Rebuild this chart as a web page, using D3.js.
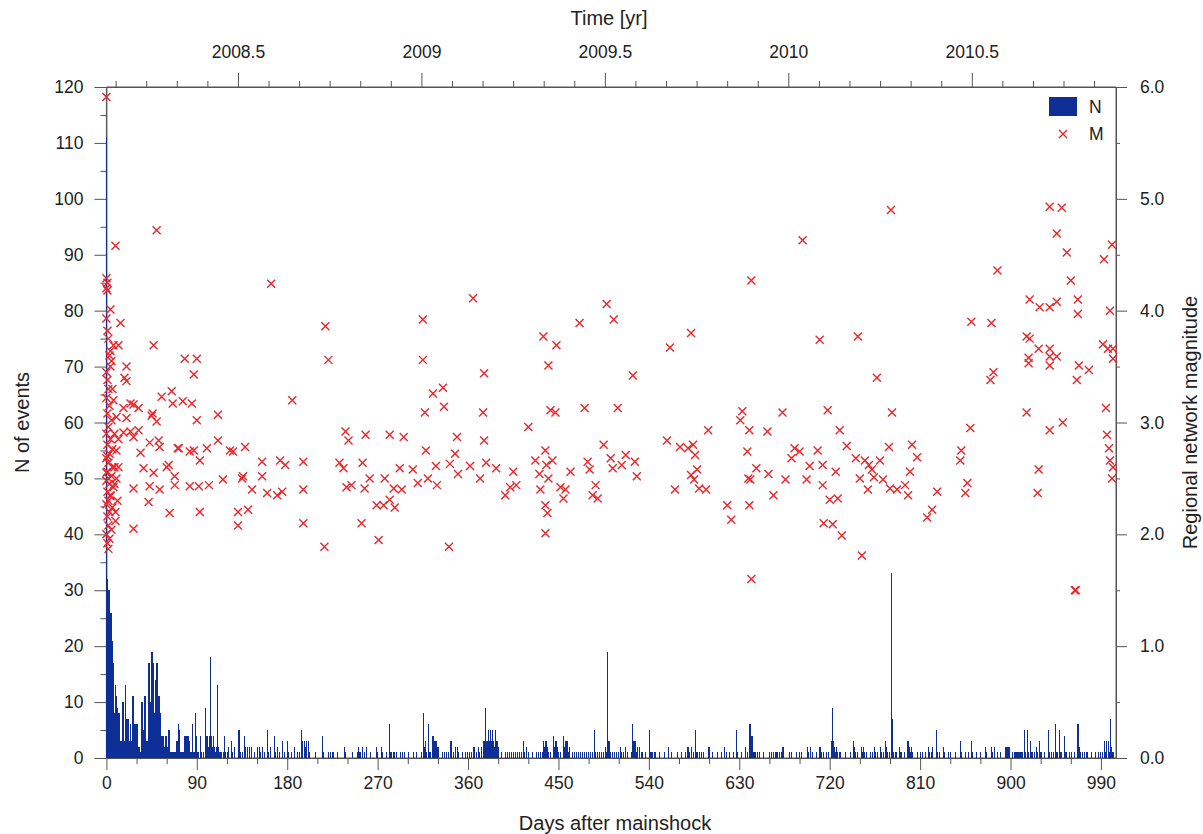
<!DOCTYPE html>
<html>
<head>
<meta charset="utf-8">
<script src="https://cdn.jsdelivr.net/npm/d3@7"></script>
<style>
  body { margin: 0; background: #fff; }
  svg { font-family: 'Liberation Sans', Arial, sans-serif; }
  .axis path, .axis line { stroke: #555; }
  .axis text { fill: #222; font-size: 17.5px; }
  .axis-title { fill: #222; font-size: 20px; }
</style>
</head>
<body>
<svg width="1203" height="834"></svg>
<script>
// daily number of events: [day after mainshock, count]
const barData = [
  [0,111],[1,32],[2,30],[3,30],[4,26],[5,26],[6,21],[7,17],[8,8],[9,13],[10,11],[11,9],[12,8],[13,8],[14,3],[15,3],
  [16,10],[17,10],[18,3],[19,13],[20,7],[21,7],[22,3],[23,6],[24,3],[25,11],[26,11],[27,6],[28,6],[29,6],[30,6],
  [31,2],[32,2],[33,1],[34,10],[35,10],[36,5],[37,11],[38,11],[39,3],[40,3],[41,17],[42,17],[43,10],[44,19],[45,19],
  [46,17],[47,8],[48,14],[49,17],[50,17],[51,11],[52,11],[53,8],[54,4],[55,4],[56,4],[57,2],[58,4],[59,4],[60,2],
  [61,5],[62,5],[63,1],[64,1],[65,1],[66,1],[67,1],[68,1],[69,3],[70,3],[71,6],[72,5],[73,1],[74,1],[75,1],[76,1],
  [77,4],[78,4],[79,4],[80,4],[81,4],[82,3],[83,1],[84,1],[85,6],[86,1],[87,1],[88,8],[89,4],[90,1],[91,1],[93,4],
  [94,1],[96,1],[98,9],[99,4],[100,4],[101,2],[102,4],[103,18],[104,4],[105,2],[106,4],[107,2],[108,1],[109,2],
  [110,13],[111,2],[112,1],[113,1],[114,1],[116,1],[117,4],[118,1],[120,1],[121,2],[124,3],[125,1],[127,2],[131,5],
  [132,5],[133,1],[135,1],[137,4],[138,2],[140,2],[142,2],[144,2],[147,1],[150,2],[152,2],[153,1],[155,2],[157,1],
  [160,5],[161,1],[163,2],[167,4],[168,1],[170,2],[172,1],[175,3],[177,1],[180,3],[181,1],[184,1],[187,2],[190,1],
  [192,1],[194,5],[195,3],[197,3],[198,2],[199,3],[201,3],[202,1],[208,1],[215,4],[216,1],[221,1],[223,1],[225,1],
  [226,1],[230,1],[237,2],[238,1],[244,1],[249,1],[250,2],[251,1],[252,1],[254,2],[256,1],[258,2],[262,1],[268,2],
  [269,1],[273,2],[274,1],[278,1],[281,6],[282,1],[283,1],[285,1],[286,1],[288,1],[292,1],[294,1],[296,1],[300,1],
  [305,1],[308,1],[313,1],[315,8],[316,2],[317,3],[318,1],[320,6],[321,1],[322,1],[324,4],[325,4],[326,3],[327,3],
  [328,3],[329,2],[330,2],[334,1],[336,1],[338,1],[340,1],[342,3],[343,3],[345,1],[347,2],[349,2],[350,1],[354,1],
  [357,1],[359,1],[361,1],[363,1],[365,2],[366,2],[368,1],[370,2],[371,1],[373,2],[375,3],[376,3],[377,9],[378,3],
  [379,3],[380,5],[381,3],[382,5],[383,3],[384,5],[385,3],[386,2],[387,5],[388,3],[389,3],[390,2],[393,1],[397,1],
  [399,1],[401,1],[403,1],[405,1],[407,1],[409,1],[411,1],[413,1],[415,3],[416,1],[418,2],[420,1],[424,1],[428,1],
  [430,1],[432,1],[434,1],[435,3],[436,2],[437,3],[438,3],[439,2],[440,1],[442,1],[445,4],[446,2],[447,3],[448,3],
  [449,2],[450,1],[452,1],[455,4],[456,2],[457,3],[458,3],[459,1],[460,2],[463,1],[465,1],[467,1],[469,1],[471,1],
  [473,1],[475,1],[477,1],[479,1],[481,1],[483,1],[485,5],[486,1],[488,1],[490,1],[492,1],[494,1],[496,2],[497,1],
  [498,19],[499,3],[500,3],[501,1],[503,1],[505,1],[507,1],[509,1],[511,2],[512,1],[514,1],[516,2],[518,1],[522,1],
  [523,6],[524,3],[525,3],[526,3],[527,1],[528,2],[530,2],[532,1],[533,1],[536,1],[540,5],[541,1],[542,1],[543,1],
  [545,1],[546,1],[550,1],[555,1],[559,2],[562,1],[568,1],[572,1],[576,1],[578,2],[579,2],[580,1],[582,2],[584,1],
  [586,5],[587,1],[588,1],[590,1],[592,1],[594,1],[599,2],[600,2],[603,1],[608,1],[612,1],[615,2],[617,1],[620,1],
  [624,1],[627,5],[628,1],[632,1],[636,2],[638,1],[640,6],[641,6],[642,4],[643,4],[644,1],[645,1],[646,1],[648,1],
  [650,1],[654,1],[660,1],[662,1],[664,1],[666,1],[667,1],[668,1],[670,1],[672,1],[673,2],[674,2],[679,1],[681,1],
  [686,1],[689,1],[691,1],[697,2],[698,1],[700,2],[702,1],[706,1],[709,2],[710,2],[711,1],[713,1],[716,1],[718,1],
  [721,3],[722,9],[723,3],[724,2],[725,1],[726,2],[727,1],[729,1],[730,1],[735,1],[740,1],[743,3],[744,2],[745,1],
  [747,1],[751,2],[752,1],[753,2],[754,1],[756,1],[760,1],[762,1],[764,2],[765,1],[767,1],[770,2],[771,1],[773,1],
  [775,3],[776,2],[777,1],[779,1],[781,33],[782,7],[783,1],[785,1],[786,1],[789,2],[790,1],[791,1],[794,1],[797,3],
  [798,3],[799,2],[800,1],[801,2],[802,1],[807,1],[810,1],[812,1],[815,1],[818,2],[819,1],[821,1],[822,2],[826,5],
  [827,1],[829,1],[833,2],[834,1],[838,1],[840,1],[845,1],[850,3],[851,1],[855,1],[858,1],[861,3],[862,1],[866,1],
  [870,1],[875,2],[876,1],[881,2],[882,1],[884,2],[887,1],[890,1],[895,2],[896,2],[897,2],[898,2],[901,1],[903,1],
  [904,1],[905,1],[906,1],[907,1],[908,1],[909,1],[910,1],[911,1],[913,5],[914,1],[916,5],[917,1],[919,3],[920,1],
  [921,1],[923,1],[925,2],[926,1],[928,3],[929,1],[930,1],[933,1],[937,5],[938,1],[940,1],[942,1],[944,6],[945,1],
  [946,1],[948,5],[949,1],[950,1],[953,4],[954,1],[955,1],[958,1],[960,1],[963,1],[966,6],[967,6],[968,2],[969,1],
  [971,1],[973,1],[975,1],[976,1],[980,1],[984,1],[987,1],[989,1],[991,1],[993,3],[994,1],[995,3],[997,3],[998,1],
  [999,7],[1000,2],[1001,1],[1002,1]
];

// regional network magnitude of individual events (day after mainshock, M)
const magDays = [0,9,50,0,1,0,1,4,0,14,47,7,12,4,78,90,20,87,18,164,
  20,17,24,27,32,55,65,66,76,85,46,50,45,90,111,20,17,24,27,32,
  43,52,53,72,87,100,111,123,126,138,34,62,71,83,93,155,173,178,37,47,
  60,68,116,135,136,155,27,43,53,68,83,92,102,145,160,170,175,42,63,93,
  131,141,131,27,
  0,1,2,0,3,1,5,2,0,4,1,6,3,0,2,8,1,5,0,3,7,1,4,2,0,6,3,1,9,2,5,0,3,1,2,4,6,8,10,10,11,9,12,7,5,3,2,1,4,6,8,10,12,0,1,2,
  185,196,196,196,218,221,217,232,236,239,241,244,238,254,255,257,258,262,271,269,276,277,282,282,286,287,292,294,296,305,310,315,315,317,318,320,325,328,329,335,336,341,342,347,349,350,365,362,376,375,376,378,372,388,397,402,405,408,420,427,431,432,
  435,448,440,437,438,440,437,439,437,442,447,444,452,455,457,462,471,476,479,481,484,487,489,495,498,505,502,504,509,513,517,524,526,528,
  561,558,566,571,579,582,582,584,585,586,588,590,597,599,618,622,631,633,640,638,639,641,640,642,642,647,658,659,664,
  673,676,682,685,690,693,697,700,708,710,713,713,714,718,720,723,726,728,730,732,737,746,748,752,750,755,758,759,762,764,767,770,773,781,782,779,780,787,
  795,798,800,802,807,817,822,827,850,851,855,857,860,861,880,881,883,887,
  939,951,946,956,1001,993,960,919,929,939,946,967,967,999,916,919,928,939,939,946,939,918,918,968,978,992,997,1002,1002,966,
  916,927,928,939,952,964,965,995,996,998,999,1001,1002];
const magValues = [5.91,4.58,4.72,4.29,4.25,4.2,4.18,4.01,3.93,3.89,3.69,3.69,3.69,3.64,3.57,3.57,3.5,3.43,3.4,4.24,
  3.37,3.13,3.17,3.16,3.13,3.23,3.28,3.17,3.19,3.17,3.08,3.01,3.06,3.02,3.07,3.04,2.91,2.92,2.87,2.93,
  2.82,2.84,2.78,2.77,2.75,2.77,2.84,2.75,2.74,2.78,2.73,2.62,2.77,2.74,2.66,2.65,2.66,2.62,2.59,2.55,
  2.6,2.52,2.49,2.5,2.52,2.52,2.41,2.43,2.4,2.44,2.43,2.43,2.44,2.4,2.37,2.35,2.38,2.29,2.19,2.2,
  2.2,2.22,2.08,2.05,
  3.45,3.38,3.3,3.22,3.15,3.08,3.02,2.96,2.9,2.85,2.8,2.76,2.72,2.68,2.64,2.6,2.56,2.52,2.48,2.45,2.42,2.38,2.34,2.3,2.27,2.24,2.2,2.16,2.12,2.08,2.04,2.0,1.96,1.92,1.87,2.35,2.6,2.9,3.05,2.5,2.3,2.2,2.6,3.2,3.55,3.6,3.75,3.82,3.5,3.3,2.45,2.75,2.85,2.55,2.7,2.5,
  3.2,2.65,2.4,2.1,3.86,3.56,1.89,2.64,2.59,2.42,2.84,2.44,2.92,2.1,2.64,2.41,2.89,2.5,1.95,2.26,2.26,2.5,2.89,2.31,2.41,2.24,2.59,2.4,2.87,2.58,2.46,3.92,3.56,3.09,2.75,2.5,3.26,2.61,2.44,3.31,3.14,1.89,2.63,2.72,2.87,2.54,4.11,2.61,3.44,3.09,2.84,2.64,2.5,2.59,2.35,2.42,2.56,2.44,2.96,2.66,2.54,2.4,
  3.77,3.69,3.51,2.75,2.62,2.5,2.26,2.19,2.01,3.11,3.09,2.66,2.42,2.32,2.4,2.56,3.89,3.13,2.65,2.58,2.35,2.44,2.32,2.8,4.06,3.92,2.68,2.59,3.13,2.62,2.71,3.42,2.65,2.52,
  3.67,2.84,2.4,2.78,2.77,2.53,3.8,2.8,2.49,2.71,2.58,2.41,2.4,2.93,2.26,2.13,3.02,3.1,2.93,2.74,2.5,2.49,2.26,4.27,1.6,2.59,2.92,2.54,2.35,
  3.09,2.49,2.68,2.77,2.74,4.63,2.49,2.61,2.75,3.74,2.62,2.44,2.1,3.11,2.31,2.09,2.56,2.32,2.93,1.99,2.79,2.68,3.77,1.81,2.5,2.66,2.4,2.62,2.58,2.51,3.4,2.66,2.49,4.9,3.09,2.78,2.41,2.4,
  2.44,2.35,2.56,2.8,2.69,2.15,2.22,2.38,2.66,2.75,2.37,2.46,2.95,3.9,3.38,3.89,3.45,4.36,
  4.93,4.92,4.69,4.52,4.59,4.46,4.27,4.1,4.03,4.03,4.08,4.1,3.97,4.0,3.77,3.75,3.66,3.66,3.59,3.59,3.51,3.58,3.53,3.51,3.47,3.7,3.66,3.66,3.57,3.38,
  3.09,2.37,2.58,2.93,3.0,1.5,1.5,3.13,2.89,2.77,2.66,2.5,2.6];

const yearTicks = [2008.5, 2009, 2009.5, 2010, 2010.5];
const svg = d3.select('svg');
const plotLeft = 106.4, plotRight = 1116, plotTop = 87, plotBottom = 758;
const dayMax = 1005;
const startYear = 2008.1415;

const x = d3.scaleLinear().domain([0, dayMax]).range([plotLeft, plotRight]);
const xYear = d3.scaleLinear().domain([startYear, startYear + dayMax / 365.25]).range([plotLeft, plotRight]);
const yN = d3.scaleLinear().domain([0, 120]).range([plotBottom, plotTop]);
const yM = d3.scaleLinear().domain([0, 6]).range([plotBottom, plotTop]);

const bars = barData.map(([day, n]) => ({ day, n }));
const mags = magDays.map((d, i) => ({ day: d, m: magValues[i] }));

// axes: major + minor ticks
const range = (a, b, st) => d3.range(a, b + st / 2, st);

const addAxis = (axisFn, scale, major, minor, bigSize, smallSize, pad, fmt, pos) => {
  const gMinor = svg.append('g').attr('class', 'axis').attr('transform', pos)
    .call(axisFn(scale).tickValues(minor).tickSize(smallSize).tickFormat(''));
  gMinor.select('.domain').remove();
  return svg.append('g').attr('class', 'axis').attr('transform', pos)
    .call(axisFn(scale).tickValues(major).tickSize(bigSize).tickSizeOuter(0).tickPadding(pad).tickFormat(fmt));
};

addAxis(d3.axisBottom, x, range(0, 990, 90), range(0, 990, 30).filter(v => v % 90), 12, 6, 7,
  d3.format('d'), `translate(0,${plotBottom})`);
addAxis(d3.axisLeft, yN, range(0, 120, 10), range(5, 115, 10), 12, 6, 11,
  d3.format('d'), `translate(${plotLeft},0)`);
addAxis(d3.axisRight, yM, range(0, 6, 1), range(0.5, 5.5, 1), 11, 4, 13,
  d3.format('.1f'), `translate(${plotRight},0)`);
const monthTicks = d3.range(2008 + 2 / 12, startYear + dayMax / 365.25, 1 / 12)
  .filter(v => Math.abs(v * 2 - Math.round(v * 2)) > 1e-6);
addAxis(d3.axisTop, xYear, yearTicks, monthTicks, 14, 6, 15,
  d => String(d), `translate(0,${plotTop})`);

// frame lines
svg.append('g').attr('class', 'axis')
  .selectAll('line').data([
    [plotLeft, plotTop, plotRight, plotTop], [plotLeft, plotBottom, plotRight, plotBottom],
    [plotLeft, plotTop, plotLeft, plotBottom], [plotRight, plotTop, plotRight, plotBottom]
  ]).join('line')
    .attr('x1', d => d[0]).attr('y1', d => d[1])
    .attr('x2', d => d[2]).attr('y2', d => d[3]);

// bars
svg.append('g')
  .attr('shape-rendering', 'crispEdges')
  .selectAll('rect').data(bars).join('rect')
    .attr('x', d => x(d.day))
    .attr('width', d => x(d.day + 1) - x(d.day))
    .attr('y', d => yN(d.n))
    .attr('height', d => yN(0) - yN(d.n))
    .attr('fill', '#0d2f97');

// crosses
const s = 4;
svg.append('g')
  .selectAll('path').data(mags).join('path')
    .attr('transform', d => `translate(${x(d.day)},${yM(d.m)})`)
    .attr('d', `M${-s},${-s}L${s},${s}M${-s},${s}L${s},${-s}`)
    .attr('stroke', '#e8262b')
    .attr('stroke-width', 1.4)
    .attr('fill', 'none');

// titles
svg.append('text').attr('class', 'axis-title')
  .attr('x', 615).attr('y', 830).attr('text-anchor', 'middle')
  .text('Days after mainshock');
svg.append('text').attr('class', 'axis-title')
  .attr('x', 609).attr('y', 25).attr('text-anchor', 'middle')
  .text('Time [yr]');
svg.append('text').attr('class', 'axis-title')
  .attr('transform', `translate(29,${(plotTop + plotBottom) / 2}) rotate(-90)`)
  .attr('text-anchor', 'middle')
  .text('N of events');
svg.append('text').attr('class', 'axis-title')
  .attr('transform', `translate(1197,${(plotTop + plotBottom) / 2}) rotate(-90)`)
  .attr('text-anchor', 'middle')
  .text('Regional network magnitude');

// legend
const legend = svg.append('g').attr('transform', 'translate(1049,97)');
legend.append('rect').attr('width', 28).attr('height', 19).attr('fill', '#0d2f97');
legend.append('text').attr('x', 40).attr('y', 10).attr('dy', '0.35em')
  .attr('font-size', 17.5).attr('fill', '#222').text('N');
legend.append('path')
  .attr('transform', 'translate(14,37)')
  .attr('d', `M${-s},${-s}L${s},${s}M${-s},${s}L${s},${-s}`)
  .attr('stroke', '#e8262b').attr('stroke-width', 1.4);
legend.append('text').attr('x', 40).attr('y', 37).attr('dy', '0.35em')
  .attr('font-size', 17.5).attr('fill', '#222').text('M');
</script>
</body>
</html>
